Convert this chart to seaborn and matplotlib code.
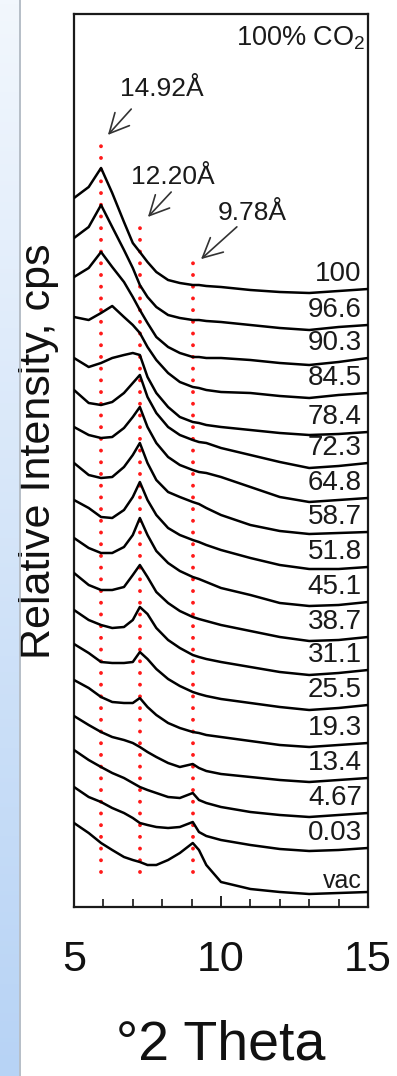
import matplotlib
matplotlib.use("Agg")
import matplotlib.pyplot as plt
import numpy as np
import pandas as pd
import seaborn as sns

# 2-theta positions (deg) where the traces were read
two_theta = [5.0, 5.5, 5.92, 6.3, 6.7, 7.0, 7.24, 7.5, 7.8, 8.2,
             8.6, 9.04, 9.25, 9.5, 10.0, 11.0, 12.0, 13.0, 14.0, 15.0]

# stacked relative intensities (a.u.), top trace first
i_100 = [702, 713, 732, 707, 678, 657, 648, 638, 628, 620, 617, 615, 615, 614, 613, 610, 608, 607, 609, 611]
i_96_6 = [662, 673, 695, 673, 650, 632, 615, 603, 593, 585, 582, 580, 580, 579, 578, 575, 572, 570, 573, 575]
i_90_3 = [623, 632, 648, 633, 618, 603, 590, 577, 563, 553, 547, 543, 543, 542, 542, 540, 537, 535, 538, 542]
i_84_5 = [583, 580, 587, 594, 583, 575, 567, 553, 540, 527, 518, 513, 512, 510, 508, 507, 504, 502, 505, 507]
i_78_4 = [542, 533, 537, 542, 545, 547, 545, 523, 507, 493, 483, 478, 477, 475, 473, 470, 467, 465, 466, 468]
i_72_3 = [510, 497, 495, 498, 507, 517, 525, 503, 487, 473, 465, 460, 458, 457, 452, 445, 438, 432, 434, 437]
i_64_8 = [473, 465, 462, 463, 472, 483, 493, 473, 457, 443, 435, 430, 428, 427, 423, 413, 403, 398, 400, 402]
i_58_7 = [437, 425, 422, 423, 433, 445, 457, 437, 420, 408, 403, 398, 396, 392, 385, 375, 369, 366, 367, 368]
i_51_8 = [400, 392, 383, 382, 390, 403, 418, 400, 385, 372, 365, 360, 358, 355, 350, 342, 335, 331, 331, 333]
i_45_1 = [362, 352, 347, 347, 353, 365, 382, 365, 349, 337, 329, 323, 321, 318, 312, 305, 297, 294, 295, 298]
i_38_7 = [327, 315, 310, 310, 313, 325, 335, 323, 308, 297, 289, 283, 281, 279, 275, 269, 263, 259, 260, 263]
i_31_1 = [290, 280, 275, 272, 273, 280, 293, 286, 272, 260, 252, 245, 243, 241, 238, 233, 228, 225, 227, 230]
i_25_5 = [256, 247, 238, 237, 237, 238, 248, 241, 231, 221, 214, 208, 206, 204, 201, 197, 193, 190, 192, 195]
i_19_3 = [220, 212, 203, 198, 197, 197, 202, 193, 185, 177, 172, 168, 167, 165, 163, 159, 155, 153, 155, 157]
i_13_4 = [184, 175, 168, 163, 160, 157, 153, 148, 143, 137, 133, 136, 132, 129, 126, 123, 120, 118, 120, 122]
i_4_67 = [150, 140, 133, 127, 122, 117, 113, 110, 107, 103, 102, 107, 100, 97, 93, 88, 85, 83, 85, 87]
i_0_03 = [113, 103, 98, 92, 87, 82, 77, 75, 73, 72, 73, 78, 68, 64, 60, 55, 51, 49, 50, 52]
i_vac = [77, 67, 57, 50, 43, 40, 38, 35, 35, 40, 47, 57, 50, 35, 18, 11, 8, 6, 7, 8]

labels = ["100", "96.6", "90.3", "84.5", "78.4", "72.3", "64.8", "58.7", "51.8",
          "45.1", "38.7", "31.1", "25.5", "19.3", "13.4", "4.67", "0.03", "vac"]
traces = [i_100, i_96_6, i_90_3, i_84_5, i_78_4, i_72_3, i_64_8, i_58_7, i_51_8,
          i_45_1, i_38_7, i_31_1, i_25_5, i_19_3, i_13_4, i_4_67, i_0_03, i_vac]

# d-spacings marked with dotted lines and their 2-theta positions
d_labels = ["14.92Å", "12.20Å", "9.78Å"]
d_two_theta = [5.92, 7.24, 9.04]
d_line_top = [757, 675, 640]

rows = []
for lab, vals in zip(labels, traces):
    for t, v in zip(two_theta, vals):
        rows.append({"theta": t, "intensity": v, "sample": lab})
df = pd.DataFrame(rows)

sns.set_theme(style="white")
plt.rcParams["font.family"] = ["Liberation Sans", "DejaVu Sans"]
plt.rcParams["mathtext.default"] = "regular"

fig = plt.figure(figsize=(3.97, 10.76), dpi=100)
fig.patch.set_facecolor("white")

# light blue strip on the left edge
strip = fig.add_axes([0, 0, 19 / 397, 1])
grad = np.linspace(0, 1, 256).reshape(-1, 1)
cmap = matplotlib.colors.LinearSegmentedColormap.from_list("strip", ["#f2f7fd", "#b7d3f5"])
strip.imshow(grad, aspect="auto", cmap=cmap, extent=[0, 1, 1, 0])
strip.set_axis_off()
fig.add_artist(plt.Line2D([19.5 / 397, 19.5 / 397], [0, 1], transform=fig.transFigure,
                          color="#a9b3bd", lw=1.2))

ax = fig.add_axes([74 / 397, 1 - 907 / 1076, 294 / 397, 893 / 1076])
ax.set_facecolor("none")

for t, top in zip(d_two_theta, d_line_top):
    ax.plot([t, t], [28, top], color="#ff1a1a", lw=2.8,
            linestyle=(0, (0.01, 3.0)), dash_capstyle="round", zorder=1)

sns.lineplot(data=df, x="theta", y="intensity", units="sample", estimator=None,
             sort=False, color="black", lw=1.8, ax=ax, legend=False, zorder=3)

for lab, vals in zip(labels, traces):
    small = lab == "vac"
    ax.annotate(lab, xy=(15, vals[-1]), xytext=(-4.5, 8 if small else 11),
                textcoords="offset points", ha="right", va="center",
                fontsize=18 if small else 20, color="#1a1a1a")

# arrows pointing at the dotted lines
arrow_start = [(7.01, 793), (8.37, 710), (10.61, 675)]
arrow_tip = [(6.09, 763), (7.45, 681), (9.25, 639)]
label_pos = [(8.0, 811), (8.35, 723), (11.05, 687)]
for lab, s, e, p in zip(d_labels, arrow_start, arrow_tip, label_pos):
    ax.annotate("", xy=e, xytext=s,
                arrowprops=dict(arrowstyle="->,head_length=0.7,head_width=0.35",
                                color="#333333", lw=1.2, mutation_scale=20))
    ax.text(p[0], p[1], lab, ha="center", va="center", fontsize=19, color="#1a1a1a")

ax.text(0.99, 0.988, "100% CO$_2$", transform=ax.transAxes, ha="right", va="top",
        fontsize=19.5, color="#1a1a1a")

ax.set_xlim(5, 15)
ax.set_ylim(-7, 886)
ax.set_xticks([5, 10, 15])
ax.set_xticks(np.arange(5, 16, 1), minor=True)
ax.set_yticks([])
ax.tick_params(axis="x", which="major", direction="in", length=8, width=1.3,
               labelsize=31, pad=24, colors="#111111", bottom=True, top=False)
ax.tick_params(axis="x", which="minor", direction="in", length=5.5, width=1.3,
               bottom=True, top=False)
for sp in ax.spines.values():
    sp.set_visible(True)
    sp.set_linewidth(1.6)
    sp.set_color("#1a1a1a")

ax.set_xlabel("°2 Theta", fontsize=40, labelpad=28, color="#111111")
ax.set_ylabel("Relative Intensity, cps", fontsize=31, color="#111111")
ax.yaxis.set_label_coords(-0.05, 0.51)

fig.savefig("out.png", dpi=100)
